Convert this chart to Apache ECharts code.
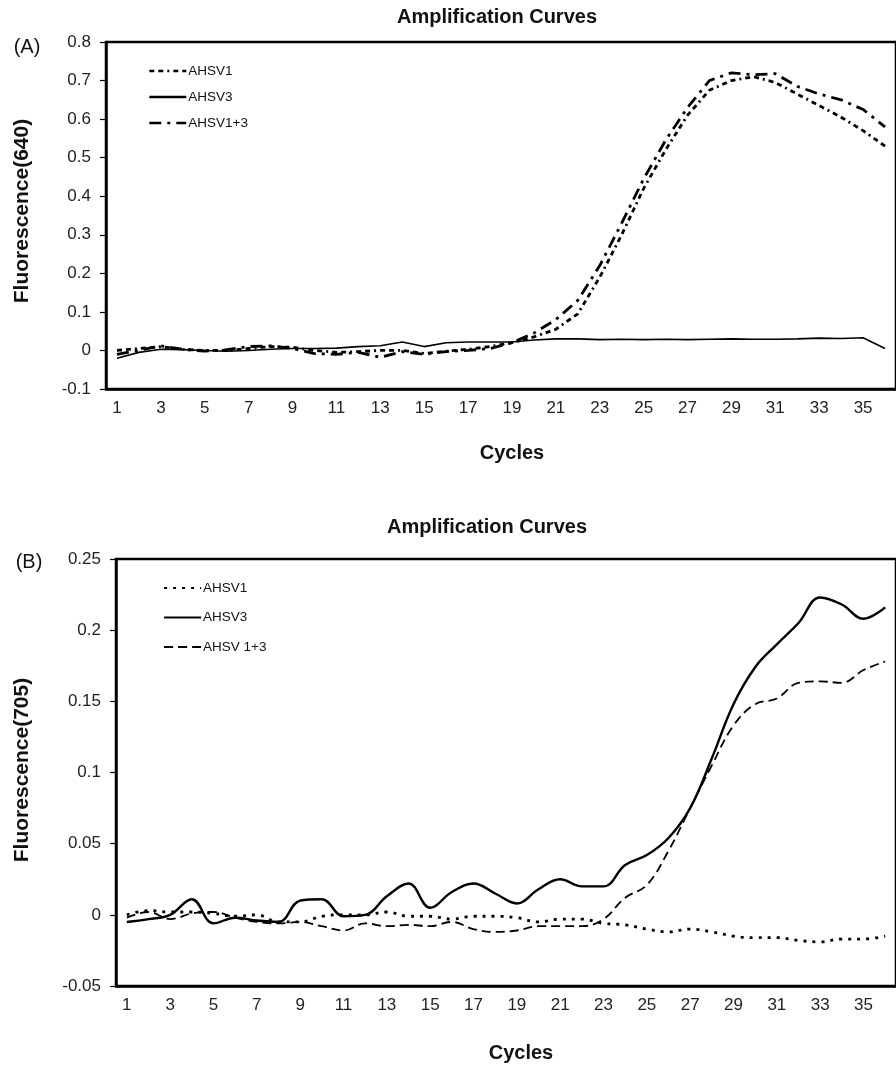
<!DOCTYPE html>
<html>
<head>
<meta charset="utf-8">
<script src="https://cdn.jsdelivr.net/npm/echarts@6/dist/echarts.min.js"></script>
<style>
html,body{margin:0;padding:0;background:#fff;}
#a{position:absolute;left:0;top:0;width:896px;height:480px;}
#b{position:absolute;left:0;top:480px;width:896px;height:586px;}
</style>
</head>
<body>
<div id="a"></div>
<div id="b"></div>
<script>
const cycles = ['1','2','3','4','5','6','7','8','9','10','11','12','13','14','15','16','17','18','19','20','21','22','23','24','25','26','27','28','29','30','31','32','33','34','35','36'];

// Panel A: Fluorescence(640)
const a_ahsv1 = [0.000,0.005,0.010,0.003,0.000,0.000,0.005,0.010,0.008,0.000,-0.005,-0.003,0.000,0.000,-0.008,-0.002,0.003,0.010,0.020,0.035,0.055,0.095,0.190,0.300,0.420,0.520,0.610,0.675,0.700,0.710,0.695,0.665,0.635,0.605,0.570,0.530];
const a_ahsv3 = [-0.020,-0.005,0.003,0.002,0.000,-0.002,0.000,0.003,0.005,0.005,0.006,0.010,0.012,0.022,0.010,0.020,0.022,0.022,0.022,0.027,0.030,0.030,0.028,0.029,0.028,0.029,0.028,0.029,0.030,0.029,0.029,0.030,0.032,0.031,0.033,0.005];
const a_ahsv13 = [-0.010,0.000,0.012,0.003,-0.002,0.002,0.010,0.012,0.005,-0.008,-0.010,-0.005,-0.018,-0.003,-0.010,-0.003,0.000,0.005,0.020,0.045,0.080,0.130,0.220,0.330,0.445,0.545,0.630,0.700,0.720,0.715,0.718,0.685,0.665,0.650,0.625,0.580];

// Panel B: Fluorescence(705)
const b_ahsv1 = [0.000,0.003,0.002,0.002,0.001,-0.001,0.000,-0.005,-0.005,-0.001,0.000,0.000,0.002,-0.001,-0.001,-0.003,-0.001,-0.001,-0.002,-0.005,-0.003,-0.003,-0.006,-0.007,-0.010,-0.012,-0.010,-0.012,-0.015,-0.016,-0.016,-0.018,-0.019,-0.017,-0.017,-0.015];
const b_ahsv3 = [-0.005,-0.003,0.000,0.011,-0.006,-0.002,-0.004,-0.005,0.010,0.011,-0.001,0.000,0.013,0.022,0.005,0.016,0.022,0.015,0.008,0.018,0.025,0.020,0.020,0.035,0.042,0.054,0.075,0.110,0.148,0.174,0.190,0.205,0.223,0.218,0.208,0.216];
const b_ahsv13 = [-0.002,0.002,-0.003,0.001,0.002,-0.002,-0.005,-0.006,-0.005,-0.008,-0.011,-0.006,-0.008,-0.007,-0.008,-0.005,-0.010,-0.012,-0.011,-0.008,-0.008,-0.008,-0.003,0.012,0.021,0.045,0.075,0.105,0.133,0.148,0.152,0.163,0.164,0.163,0.172,0.178];

const FONT = '"Liberation Sans", Arial, sans-serif';

function text(x, y, t, size, bold, rot) {
  return {
    type: 'text', x: x, y: y, rotation: rot || 0, silent: true,
    style: { text: t, fill: '#111', font: (bold ? 'bold ' : '') + size + 'px ' + FONT, align: 'center', verticalAlign: 'middle' }
  };
}

function makeOption(cfg) {
  return {
    animation: false,
    backgroundColor: '#fff',
    graphic: cfg.graphic,
    legend: {
      orient: 'vertical', left: cfg.legLeft, top: cfg.legTop,
      itemWidth: 37, itemHeight: 14, itemGap: cfg.legGap,
      itemStyle: { opacity: 0 },
      lineStyle: { width: cfg.legWidth },
      textStyle: { fontFamily: FONT, fontSize: 13.5, color: '#111', padding: [0, 0, 0, -3] },
      data: cfg.series.map(s => s.name)
    },
    grid: {
      left: cfg.left, top: cfg.top, height: cfg.height, right: cfg.right,
      show: true, borderColor: '#000', borderWidth: 2.5, backgroundColor: 'transparent'
    },
    xAxis: {
      type: 'category', data: cycles, boundaryGap: true,
      axisLine: { show: true, onZero: false, lineStyle: { color: '#000', width: 2.5 } },
      axisTick: { show: false },
      axisLabel: { interval: 1, color: '#222', fontFamily: FONT, fontSize: 17, margin: 11 },
      splitLine: { show: false }
    },
    yAxis: {
      type: 'value', min: cfg.ymin, max: cfg.ymax, interval: cfg.yint,
      axisLine: { show: true, onZero: false, lineStyle: { color: '#000', width: 2.5 } },
      axisTick: { show: true, inside: false, length: 6, lineStyle: { color: '#000', width: 1.2 } },
      axisLabel: { color: '#222', fontFamily: FONT, fontSize: 17, margin: 15 },
      splitLine: { show: false }
    },
    series: cfg.series.map(s => ({
      name: s.name, type: 'line', data: s.data, smooth: s.smooth || false,
      symbol: 'none', showSymbol: false, clip: true,
      lineStyle: { color: '#000', width: s.width, type: s.dash },
      itemStyle: { color: '#000' }
    }))
  };
}

const chartA = echarts.init(document.getElementById('a'), null, { renderer: 'canvas' });
chartA.setOption(makeOption({
  left: 106, top: 42, height: 347, right: -9,
  ymin: -0.1, ymax: 0.8, yint: 0.1,
  legLeft: 143, legTop: 59, legGap: 12, legWidth: 2.6,
  graphic: [
    text(497, 17, 'Amplification Curves', 20, true),
    text(27, 47, '(A)', 20, false),
    text(22, 211, 'Fluorescence(640)', 21, true, Math.PI / 2),
    text(512, 453, 'Cycles', 20, true)
  ],
  series: [
    { name: 'AHSV1', data: a_ahsv1, width: 2.8, dash: [5, 4, 5, 4, 2, 4] },
    { name: 'AHSV3', data: a_ahsv3, width: 1.6, dash: 'solid' },
    { name: 'AHSV1+3', data: a_ahsv13, width: 2.8, dash: [12, 6, 3, 6] }
  ]
}));

const chartB = echarts.init(document.getElementById('b'), null, { renderer: 'canvas' });
chartB.setOption(makeOption({
  left: 116, top: 79, height: 427, right: -17,
  ymin: -0.05, ymax: 0.25, yint: 0.05,
  legLeft: 158, legTop: 96, legGap: 15.5, legWidth: 2.2,
  graphic: [
    text(487, 47, 'Amplification Curves', 20, true),
    text(29, 82, '(B)', 20, false),
    text(22, 290, 'Fluorescence(705)', 21, true, Math.PI / 2),
    text(521, 573, 'Cycles', 20, true)
  ],
  series: [
    { name: 'AHSV1', data: b_ahsv1, width: 2.8, dash: [3, 6], smooth: 0.4 },
    { name: 'AHSV3', data: b_ahsv3, width: 2.4, dash: 'solid', smooth: 0.4 },
    { name: 'AHSV 1+3', data: b_ahsv13, width: 1.8, dash: [9, 5], smooth: 0.4 }
  ]
}));
</script>
</body>
</html>
